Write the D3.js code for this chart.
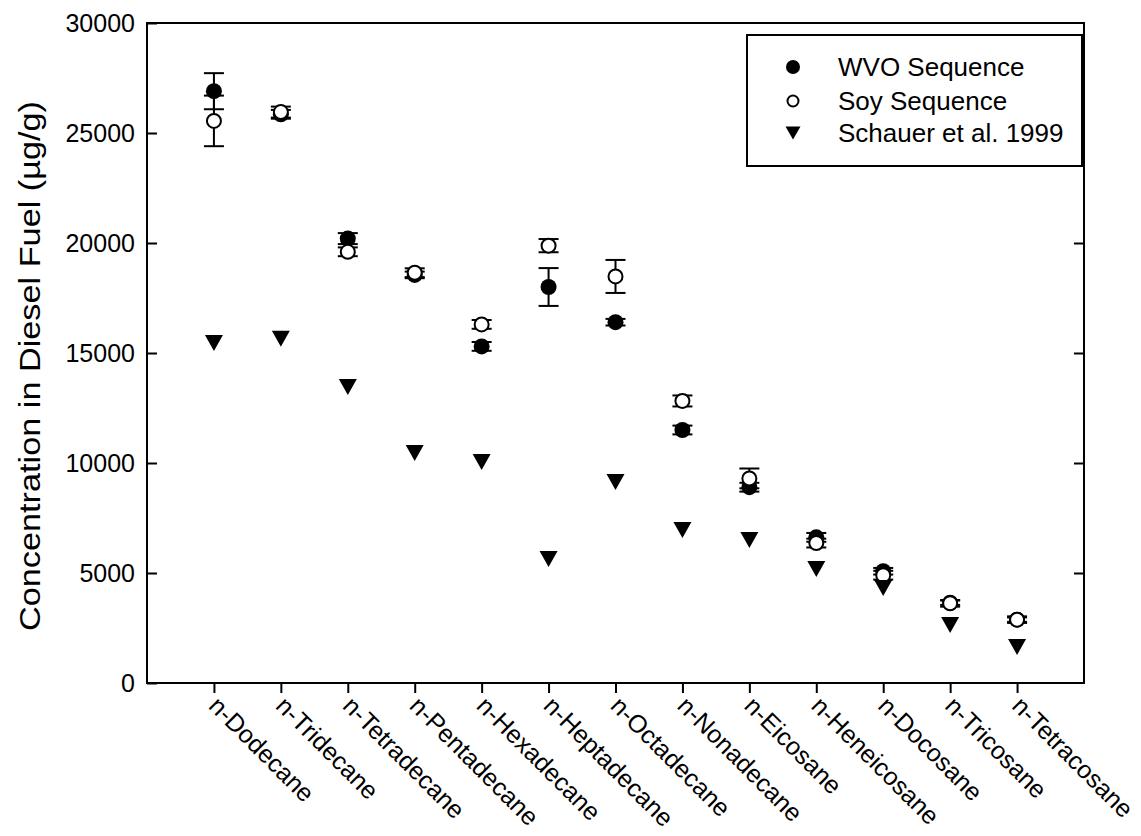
<!DOCTYPE html>
<html>
<head>
<meta charset="utf-8">
<script src="https://cdn.jsdelivr.net/npm/d3@7"></script>
<style>
  body { margin: 0; background: #fff; }
  svg { font-family: "Liberation Sans", Arial, sans-serif; }
</style>
</head>
<body>
<div id="chart"></div>
<script>
const categories = ["n-Dodecane", "n-Tridecane", "n-Tetradecane", "n-Pentadecane", "n-Hexadecane",
  "n-Heptadecane", "n-Octadecane", "n-Nonadecane", "n-Eicosane", "n-Heneicosane",
  "n-Docosane", "n-Tricosane", "n-Tetracosane"];

const wvo = [26900, 25850, 20200, 18550, 15300, 18000, 16400, 11500, 8900, 6620, 5080, 3650, 2880];
const wvoErr = [820, 200, 250, 150, 200, 860, 150, 200, 200, 200, 150, 100, 100];
const soy = [25550, 25950, 19600, 18650, 16300, 19880, 18480, 12820, 9300, 6360, 4900, 3620, 2880];
const soyErr = [1150, 250, 200, 200, 200, 300, 750, 250, 450, 200, 200, 150, 150];
const schauer = [15450, 15650, 13450, 10450, 10050, 5640, 9140, 6950, 6500, 5180, 4320, 2640, 1640];

const yTicks = [0, 5000, 10000, 15000, 20000, 25000, 30000];
const legendLabels = ["WVO Sequence", "Soy Sequence", "Schauer et al. 1999"];

let width = 1141,
  height = 836;

let svg = d3.select("#chart")
  .append("svg")
  .attr("width", width)
  .attr("height", height);

let m = { left: 147, right: 1084, top: 23, bottom: 683 };

let x = d3.scaleLinear()
  .domain([0, categories.length + 1])
  .range([m.left, m.right]);

let y = d3.scaleLinear()
  .domain([0, 30000])
  .range([m.bottom, m.top]);

// frame
svg.append("rect")
  .attr("x", m.left)
  .attr("y", m.top)
  .attr("width", m.right - m.left)
  .attr("height", m.bottom - m.top)
  .attr("fill", "none")
  .attr("stroke", "#000")
  .attr("stroke-width", 2);

let yAxis = svg.append("g")
  .attr("transform", `translate(${m.left},0)`)
  .call(d3.axisLeft(y).tickValues(yTicks).tickSize(-10).tickPadding(12).tickFormat(d3.format("d")));

let yAxisR = svg.append("g")
  .attr("transform", `translate(${m.right},0)`)
  .call(d3.axisRight(y).tickValues(yTicks.slice(1, -1)).tickSize(-10).tickFormat(""));

let xAxis = svg.append("g")
  .attr("transform", `translate(0,${m.bottom})`)
  .call(d3.axisBottom(x).tickValues(d3.range(1, categories.length + 1)).tickSize(10).tickFormat(""));

[yAxis, yAxisR, xAxis].forEach(a => {
  a.select(".domain").remove();
  a.selectAll(".tick line").attr("stroke", "#000").attr("stroke-width", 2);
  a.selectAll("text").attr("font-size", 25).attr("fill", "#000");
  a.attr("font-family", null);
});

svg.append("g")
  .selectAll("text")
  .data(categories)
  .join("text")
  .attr("transform", (d, i) => `translate(${x(i + 1) + 6},${m.bottom + 12}) rotate(45)`)
  .attr("dy", "0.7em")
  .attr("font-size", 25)
  .text(d => d);

svg.append("text")
  .attr("transform", `translate(40,366) rotate(-90)`)
  .attr("text-anchor", "middle")
  .attr("font-size", 29)
  .attr("textLength", 530)
  .attr("lengthAdjust", "spacingAndGlyphs")
  .text("Concentration in Diesel Fuel (µg/g)");

// error bars
let series = [
  { values: wvo, err: wvoErr },
  { values: soy, err: soyErr }
];
let capW = 10;
series.forEach(s => {
  let g = svg.append("g").attr("stroke", "#000").attr("stroke-width", 2);
  s.values.forEach((v, i) => {
    let cx = x(i + 1);
    g.append("line").attr("x1", cx).attr("x2", cx).attr("y1", y(v - s.err[i])).attr("y2", y(v + s.err[i]));
    g.append("line").attr("x1", cx - capW).attr("x2", cx + capW).attr("y1", y(v + s.err[i])).attr("y2", y(v + s.err[i]));
    g.append("line").attr("x1", cx - capW).attr("x2", cx + capW).attr("y1", y(v - s.err[i])).attr("y2", y(v - s.err[i]));
  });
});

function triangle(w, h) {
  return `M${-w / 2},${-h / 2}L${w / 2},${-h / 2}L0,${h / 2}Z`;
}

svg.append("g")
  .selectAll("circle")
  .data(wvo)
  .join("circle")
  .attr("cx", (d, i) => x(i + 1))
  .attr("cy", d => y(d))
  .attr("r", 8)
  .attr("fill", "#000");

svg.append("g")
  .selectAll("circle")
  .data(soy)
  .join("circle")
  .attr("cx", (d, i) => x(i + 1))
  .attr("cy", d => y(d))
  .attr("r", 7)
  .attr("fill", "#fff")
  .attr("stroke", "#000")
  .attr("stroke-width", 2);

svg.append("g")
  .selectAll("path")
  .data(schauer)
  .join("path")
  .attr("transform", (d, i) => `translate(${x(i + 1)},${y(d)})`)
  .attr("d", triangle(18, 16))
  .attr("fill", "#000");

// legend
let legend = svg.append("g");
legend.append("rect")
  .attr("x", 747).attr("y", 35)
  .attr("width", 335).attr("height", 131)
  .attr("fill", "#fff")
  .attr("stroke", "#000")
  .attr("stroke-width", 2);

let rows = [67, 101, 133];
legend.append("circle").attr("cx", 793).attr("cy", rows[0]).attr("r", 7).attr("fill", "#000");
legend.append("circle").attr("cx", 793).attr("cy", rows[1]).attr("r", 5.5)
  .attr("fill", "#fff").attr("stroke", "#000").attr("stroke-width", 2);
legend.append("path").attr("transform", `translate(793,${rows[2]})`).attr("d", triangle(15, 13)).attr("fill", "#000");

legend.selectAll("text")
  .data(legendLabels)
  .join("text")
  .attr("x", 838)
  .attr("y", (d, i) => rows[i])
  .attr("dy", "0.35em")
  .attr("font-size", 26)
  .text(d => d);
</script>
</body>
</html>
